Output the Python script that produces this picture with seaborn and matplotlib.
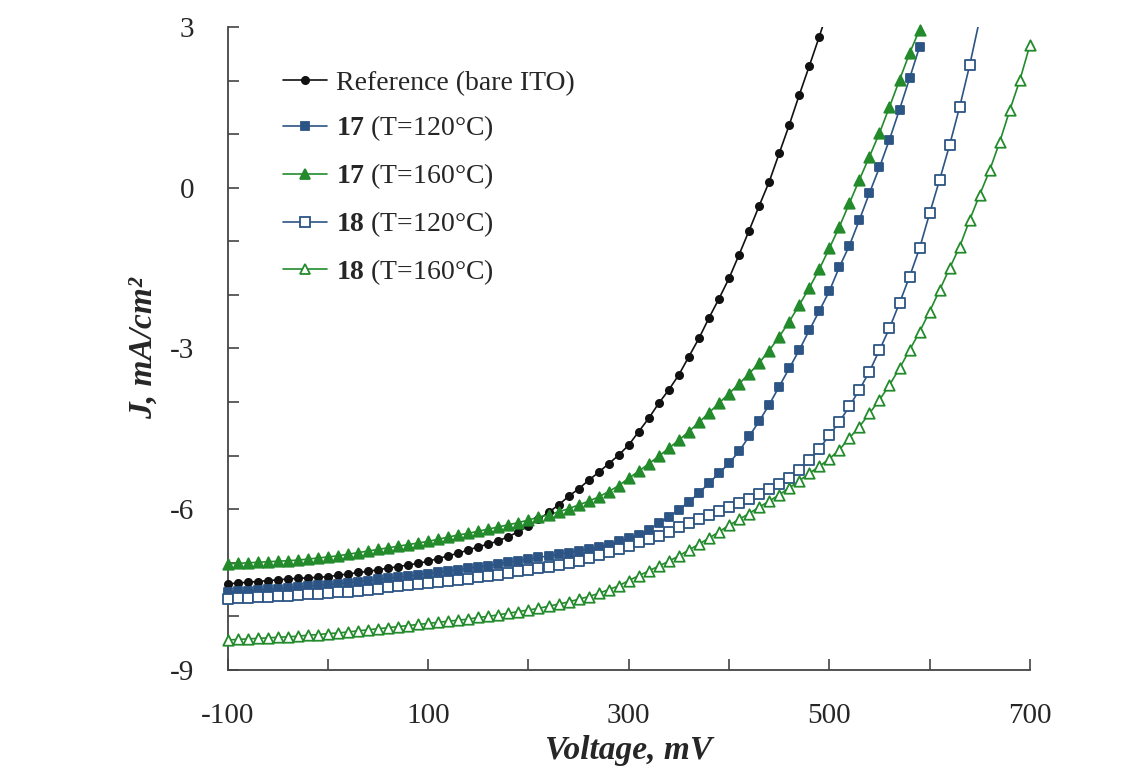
import numpy as np
import pandas as pd
import matplotlib
matplotlib.use("Agg")
import matplotlib.pyplot as plt
from matplotlib.lines import Line2D
from matplotlib.ticker import MultipleLocator, FixedLocator
import seaborn as sns

# J-V curves, voltage in mV, current density in mA/cm2
v_ref = np.arange(-100, 510, 10)
j_ref = [-7.39, -7.38, -7.36, -7.35, -7.33, -7.32, -7.30, -7.29, -7.28, -7.27,
         -7.26, -7.23, -7.21, -7.18, -7.16, -7.13, -7.10, -7.07, -7.04, -7.01,
         -6.97, -6.92, -6.87, -6.82, -6.76, -6.70, -6.65, -6.59, -6.51, -6.42,
         -6.31, -6.19, -6.06, -5.92, -5.76, -5.62, -5.46, -5.31, -5.15, -4.99,
         -4.80, -4.55, -4.30, -4.02, -3.77, -3.49, -3.15, -2.81, -2.43, -2.07,
         -1.69, -1.25, -0.80, -0.34, 0.11, 0.64, 1.17, 1.73, 2.27, 2.82,
         3.40]

v_17_120 = np.arange(-100, 600, 10)
j_17_120 = [-7.55, -7.53, -7.52, -7.51, -7.49, -7.48, -7.47, -7.45, -7.44, -7.42,
            -7.41, -7.39, -7.37, -7.35, -7.33, -7.31, -7.29, -7.27, -7.25, -7.22,
            -7.20, -7.18, -7.15, -7.13, -7.10, -7.08, -7.05, -7.02, -6.99, -6.96,
            -6.93, -6.90, -6.87, -6.84, -6.81, -6.78, -6.74, -6.70, -6.66, -6.60,
            -6.54, -6.48, -6.38, -6.26, -6.14, -6.01, -5.86, -5.70, -5.51, -5.33,
            -5.14, -4.92, -4.64, -4.36, -4.05, -3.71, -3.37, -3.03, -2.66, -2.30,
            -1.93, -1.48, -1.08, -0.60, -0.10, 0.38, 0.90, 1.46, 2.04, 2.63]

v_17_160 = np.arange(-100, 600, 10)
j_17_160 = [-7.02, -7.01, -7.00, -6.99, -6.98, -6.97, -6.96, -6.95, -6.93, -6.91,
            -6.89, -6.87, -6.84, -6.81, -6.78, -6.75, -6.72, -6.69, -6.66, -6.63,
            -6.60, -6.56, -6.52, -6.48, -6.45, -6.41, -6.37, -6.33, -6.29, -6.25,
            -6.20, -6.15, -6.10, -6.05, -5.99, -5.92, -5.85, -5.77, -5.67, -5.56,
            -5.42, -5.29, -5.15, -5.01, -4.86, -4.71, -4.55, -4.38, -4.20, -4.02,
            -3.84, -3.66, -3.47, -3.27, -3.04, -2.78, -2.50, -2.19, -1.87, -1.52,
            -1.13, -0.73, -0.29, 0.15, 0.58, 1.02, 1.51, 2.01, 2.51, 2.95]

v_18_120 = np.arange(-100, 660, 10)
j_18_120 = [-7.67, -7.66, -7.65, -7.64, -7.63, -7.62, -7.61, -7.60, -7.59, -7.58,
            -7.57, -7.55, -7.54, -7.52, -7.50, -7.48, -7.46, -7.44, -7.42, -7.40,
            -7.38, -7.36, -7.34, -7.32, -7.30, -7.27, -7.25, -7.22, -7.19, -7.16,
            -7.13, -7.10, -7.07, -7.04, -7.00, -6.96, -6.91, -6.86, -6.80, -6.74,
            -6.68, -6.62, -6.56, -6.50, -6.42, -6.34, -6.26, -6.18, -6.10, -6.03,
            -5.95, -5.88, -5.80, -5.71, -5.62, -5.53, -5.42, -5.26, -5.08, -4.87,
            -4.62, -4.37, -4.08, -3.77, -3.43, -3.03, -2.62, -2.15, -1.66, -1.13,
            -0.48, 0.15, 0.80, 1.51, 2.29, 3.15]

v_18_160 = np.arange(-100, 710, 10)
j_18_160 = [-8.44, -8.43, -8.42, -8.41, -8.40, -8.39, -8.38, -8.37, -8.35, -8.34,
            -8.32, -8.31, -8.29, -8.27, -8.25, -8.23, -8.21, -8.19, -8.17, -8.15,
            -8.13, -8.11, -8.09, -8.07, -8.05, -8.02, -8.00, -7.97, -7.94, -7.91,
            -7.88, -7.85, -7.81, -7.77, -7.73, -7.68, -7.63, -7.57, -7.50, -7.43,
            -7.33, -7.24, -7.15, -7.06, -6.97, -6.87, -6.76, -6.65, -6.54, -6.42,
            -6.30, -6.19, -6.08, -5.96, -5.85, -5.73, -5.60, -5.47, -5.33, -5.20,
            -5.06, -4.89, -4.67, -4.46, -4.21, -3.96, -3.68, -3.37, -3.03, -2.69,
            -2.31, -1.91, -1.50, -1.10, -0.60, -0.13, 0.33, 0.86, 1.45, 2.01,
            2.66]

labels = ["Reference (bare ITO)",
          r"$\mathbf{17}$ (T=120°C)",
          r"$\mathbf{17}$ (T=160°C)",
          r"$\mathbf{18}$ (T=120°C)",
          r"$\mathbf{18}$ (T=160°C)"]

x_ticks = [-100, 100, 300, 500, 700]
y_ticks = [-9, -6, -3, 0, 3]

BLACK = "#111111"
BLUE = "#2C5485"
GREEN = "#238B2C"

# (voltage, J, color, marker, filled, marker size)
series = [
    (v_ref, j_ref, BLACK, "o", True, 5.2),
    (v_17_120, j_17_120, BLUE, "s", True, 5.2),
    (v_17_160, j_17_160, GREEN, "^", True, 7.5),
    (v_18_120, j_18_120, BLUE, "s", False, 6.5),
    (v_18_160, j_18_160, GREEN, "^", False, 7.5),
]

sns.set_style("ticks")
plt.rcParams["font.family"] = ["Liberation Serif", "DejaVu Serif"]
plt.rcParams["mathtext.fontset"] = "custom"
plt.rcParams["mathtext.rm"] = "Liberation Serif"
plt.rcParams["mathtext.bf"] = "Liberation Serif:bold"
plt.rcParams["axes.unicode_minus"] = False

fig = plt.figure(figsize=(11.38, 7.71), dpi=100)
ax = fig.add_axes([0.200, 0.131, 0.705, 0.834])

handles = []
for (v, j, col, mk, filled, ms), lab in zip(series, labels):
    df = pd.DataFrame({"V": v, "J": j})
    sns.lineplot(data=df, x="V", y="J", ax=ax, color=col, linewidth=1.2,
                 sort=False, estimator=None, legend=False)
    # markers are drawn unclipped, but only where they fall inside the y range
    dm = df[df["J"] <= 3.0]
    sns.scatterplot(data=dm, x="V", y="J", ax=ax, marker=mk, s=ms ** 2,
                    color=col if filled else "white", edgecolor=col,
                    linewidth=1.3, clip_on=False, legend=False, zorder=3)
    handles.append(Line2D([0], [0], color=col, linewidth=1.2, marker=mk,
                          markersize=ms, markerfacecolor=col if filled else "white",
                          markeredgecolor=col, markeredgewidth=1.3))

ax.set_xlim(-100, 700)
ax.set_ylim(-9, 3)
ax.xaxis.set_major_locator(FixedLocator(x_ticks))
ax.xaxis.set_minor_locator(MultipleLocator(100))
ax.yaxis.set_major_locator(FixedLocator(y_ticks))
ax.yaxis.set_minor_locator(MultipleLocator(1))
ax.tick_params(axis="both", which="both", direction="in", color="#444444",
               width=1.2, labelsize=21, pad=24)
ax.tick_params(axis="both", which="major", length=8)
ax.tick_params(axis="both", which="minor", length=8)

sns.despine(ax=ax)
for side in ["left", "bottom"]:
    ax.spines[side].set_color("#444444")
    ax.spines[side].set_linewidth(1.3)

ax.set_xlabel("Voltage, mV", fontsize=24, fontweight="bold", fontstyle="italic",
              labelpad=4)
ax.set_ylabel("J, mA/cm²", fontsize=24, fontweight="bold", fontstyle="italic",
              labelpad=8)

ax.legend(handles, labels, loc="upper left", bbox_to_anchor=(0.055, 0.95),
          frameon=False, fontsize=20, handlelength=1.6, handletextpad=0.3,
          labelspacing=0.65, borderaxespad=0)

fig.savefig("out.png", dpi=100)
